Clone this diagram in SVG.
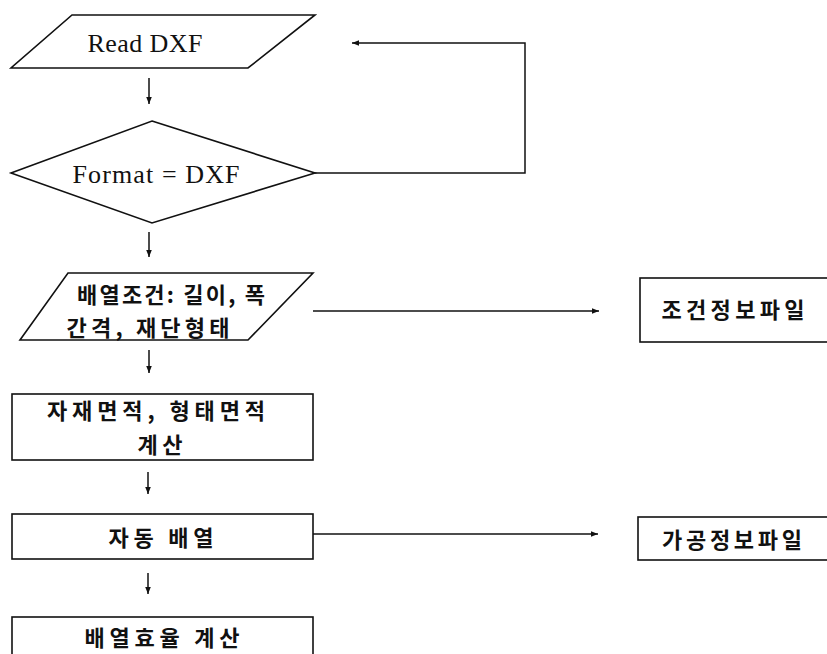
<svg xmlns="http://www.w3.org/2000/svg" width="827" height="654" viewBox="0 0 827 654">
<style>
.shape{fill:none;stroke:#111;stroke-width:1.6}
.conn{fill:none;stroke:#111;stroke-width:1.5}
.en{font-family:"Liberation Serif","Times New Roman",serif;font-size:26px;fill:#111;text-anchor:middle}
.ko{font-family:"Noto Sans CJK KR","Noto Sans",sans-serif;font-size:22px;font-weight:700;fill:#111;text-anchor:middle}
</style>
<defs>
<marker id="ah" viewBox="0 0 10 10" refX="10" refY="5" markerWidth="7" markerHeight="7" markerUnits="userSpaceOnUse" orient="auto">
<path d="M0,1 L10,5 L0,9 Z" fill="#111"/>
</marker>
</defs>
<rect width="827" height="654" fill="#fff"/>
<g id="connectors">
<line class="conn" x1="149" y1="78" x2="149" y2="104" marker-end="url(#ah)"/>
<polyline class="conn" points="315,173 525,173 525,43 352,43" marker-end="url(#ah)"/>
<line class="conn" x1="149" y1="232" x2="149" y2="257" marker-end="url(#ah)"/>
<line class="conn" x1="313" y1="311" x2="599" y2="311" marker-end="url(#ah)"/>
<line class="conn" x1="149" y1="350" x2="149" y2="373" marker-end="url(#ah)"/>
<line class="conn" x1="148" y1="472" x2="148" y2="494" marker-end="url(#ah)"/>
<line class="conn" x1="313" y1="534" x2="598" y2="534" marker-end="url(#ah)"/>
<line class="conn" x1="148" y1="573" x2="148" y2="594" marker-end="url(#ah)"/>
</g>
<g id="read-dxf">
<polygon class="shape" points="72,15 315,15 248,68 11,68"/>
<text class="en" x="145" y="52" textLength="115" lengthAdjust="spacing">Read DXF</text>
</g>
<g id="format-check">
<polygon class="shape" points="152,121 315,173 152,223 11,173"/>
<text class="en" x="156" y="183" textLength="167" lengthAdjust="spacing">Format = DXF</text>
</g>
<g id="conditions">
<polygon class="shape" points="68,273 313,273 248,340 20,340"/>
<text class="ko" x="171" y="303" textLength="188" lengthAdjust="spacing">배열조건: 길이, 폭</text>
<text class="ko" x="148" y="336" textLength="163" lengthAdjust="spacing">간격, 재단형태</text>
</g>
<g id="area-calc">
<rect class="shape" x="12" y="394" width="301" height="66"/>
<text class="ko" x="156" y="419" textLength="218" lengthAdjust="spacing">자재면적, 형태면적</text>
<text class="ko" x="160" y="453" textLength="45" lengthAdjust="spacing">계산</text>
</g>
<g id="auto-layout">
<rect class="shape" x="12" y="514" width="301" height="45"/>
<text class="ko" x="161" y="546" textLength="105" lengthAdjust="spacing">자동 배열</text>
</g>
<g id="efficiency">
<rect class="shape" x="12" y="617" width="301" height="47"/>
<text class="ko" x="162" y="646" textLength="155" lengthAdjust="spacing">배열효율 계산</text>
</g>
<g id="condition-file">
<rect class="shape" x="640" y="278" width="200" height="64"/>
<text class="ko" x="733" y="318" textLength="143" lengthAdjust="spacing">조건정보파일</text>
</g>
<g id="process-file">
<rect class="shape" x="638" y="517" width="200" height="43"/>
<text class="ko" x="732" y="548" textLength="140" lengthAdjust="spacing">가공정보파일</text>
</g>
</svg>
